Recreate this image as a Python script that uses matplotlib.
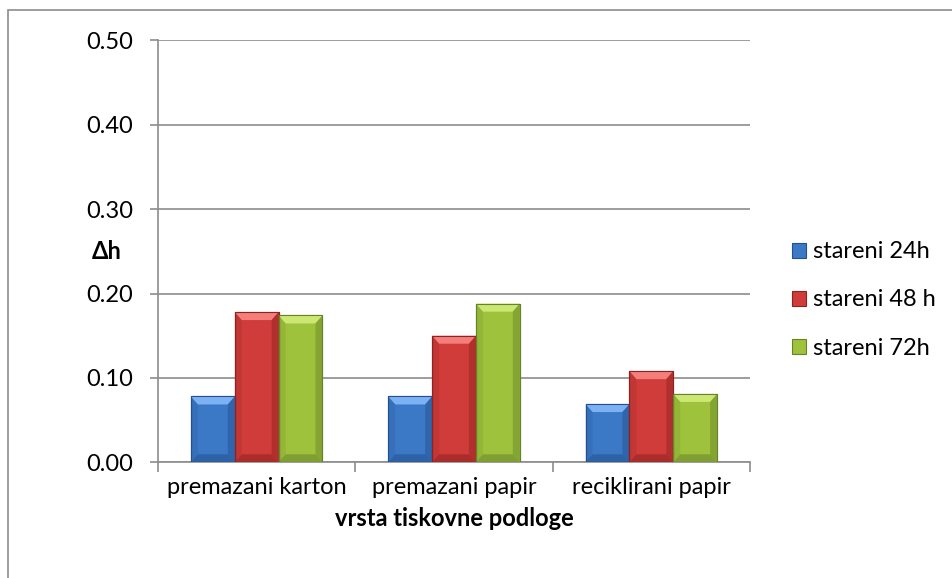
import numpy as np
import matplotlib
matplotlib.use("Agg")
import matplotlib.pyplot as plt
from matplotlib.patches import Polygon, Patch, Rectangle

plt.rcParams["font.family"] = ["Lato", "DejaVu Sans"]

categories = ["premazani karton", "premazani papir", "reciklirani papir"]
series = ["stareni 24h", "stareni 48 h", "stareni 72h"]
v24 = [0.078, 0.078, 0.069]
v48 = [0.178, 0.150, 0.108]
v72 = [0.174, 0.188, 0.081]
yticks = [0.0, 0.1, 0.2, 0.3, 0.4, 0.5]

# face, light (top bevel), dark (edges)
COLORS = [
    ("#3b78c6", "#7cb2f4", "#24508c"),
    ("#cf3c3a", "#f47e7a", "#8e2220"),
    ("#9ec23c", "#cde872", "#67832a"),
]
FS = 17

fig = plt.figure(figsize=(9.53, 5.78), dpi=100)
fig.patch.set_facecolor("white")
# outer chart frame (left/top visible)
fig.add_artist(Rectangle((8 / 953, -0.1), 1.2, 1 - 10 / 578 + 0.1,
                         transform=fig.transFigure, fill=False,
                         edgecolor="#8c8c8c", lw=1.2))

ax = fig.add_axes([158 / 953, 1 - 462.3 / 578, 592 / 953, 422 / 578])
ax.set_xlim(-0.5, 2.5)
ax.set_ylim(0, 0.5)

x = np.arange(len(categories))
w = 1 / 4.5
bx = 7 * 3.0 / 592   # bevel width in data units (~7 px)
by = 8 * 0.5 / 422   # bevel height in data units (~8 px)

for k, vals in enumerate([v24, v48, v72]):
    face, light, dark = COLORS[k]
    bars = ax.bar(x + (k - 1) * w, vals, width=w, color=face,
                  edgecolor=dark, linewidth=0.8, zorder=3)
    for p in bars:
        x0, y0 = p.get_x(), p.get_y()
        x1, y1 = x0 + p.get_width(), y0 + p.get_height()
        top = Polygon([(x0, y1), (x1, y1), (x1 - bx, y1 - by), (x0 + bx, y1 - by)],
                      closed=True, facecolor=light, edgecolor="none", zorder=4)
        right = Polygon([(x1, y1), (x1, y0), (x1 - bx, y0 + by), (x1 - bx, y1 - by)],
                        closed=True, facecolor=dark, alpha=0.45, edgecolor="none", zorder=4)
        left = Polygon([(x0, y1), (x0, y0), (x0 + bx, y0 + by), (x0 + bx, y1 - by)],
                       closed=True, facecolor=dark, alpha=0.2, edgecolor="none", zorder=4)
        bottom = Polygon([(x0, y0), (x1, y0), (x1 - bx, y0 + by), (x0 + bx, y0 + by)],
                         closed=True, facecolor=dark, alpha=0.55, edgecolor="none", zorder=4)
        for poly in (top, right, left, bottom):
            ax.add_patch(poly)
        ax.add_patch(Rectangle((x0, y0), x1 - x0, y1 - y0, fill=False,
                               edgecolor=dark, lw=0.8, zorder=5))

ax.set_yticks(yticks)
ax.set_yticklabels([f"{t:.2f}" for t in yticks], fontsize=FS)
ax.yaxis.grid(True, color="#8c8c8c", lw=1.2, zorder=0)
ax.set_axisbelow(True)
ax.set_xticks([-0.5, 0.5, 1.5, 2.5])
ax.set_xticklabels([])
ax.tick_params(axis="both", direction="out", length=6, color="#8c8c8c",
               width=1.2, pad=12)
ax.tick_params(axis="x", length=7)
for i, c in enumerate(categories):
    ax.text(x[i], -0.0295, c, fontsize=FS, ha="center", va="center",
            transform=ax.transData, clip_on=False)
for s in ("top", "right"):
    ax.spines[s].set_visible(False)
for s in ("left", "bottom"):
    ax.spines[s].set_color("#8c8c8c")
    ax.spines[s].set_linewidth(1.2)

ax.set_ylabel("Δh", fontsize=FS, fontweight="bold", rotation=0,
              ha="center", va="center")
ax.yaxis.set_label_coords(-0.086, 0.5)
ax.set_xlabel("vrsta tiskovne podloge", fontsize=FS, fontweight="bold",
              va="center")
ax.xaxis.set_label_coords(0.5, -0.132)

handles = [Patch(facecolor=COLORS[k][0], edgecolor=COLORS[k][2], lw=0.8)
           for k in range(3)]
fig.legend(handles, series, loc="center left",
           bbox_to_anchor=(792 / 953, 1 - 300 / 578), frameon=False,
           fontsize=FS, handlelength=0.6, handleheight=0.6, handletextpad=0.3,
           labelspacing=1.15, borderpad=0, borderaxespad=0)

fig.savefig("out.png", dpi=100, facecolor="white")
